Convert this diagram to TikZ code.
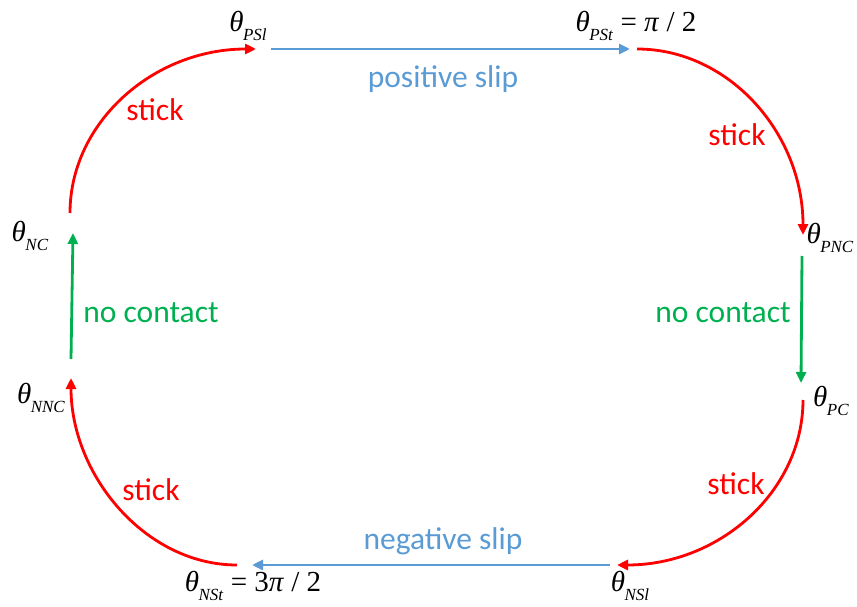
\documentclass[tikz,border=0pt]{standalone}
\usepackage{fontspec}
\setmainfont{Liberation Serif}
\newfontfamily\carl{Carlito}
\usetikzlibrary{arrows.meta}
\definecolor{cred}{RGB}{255,0,0}
\definecolor{cblue}{RGB}{91,155,213}
\definecolor{cgreen}{RGB}{0,176,80}
\newcommand\thsub[1]{\textit{θ}\kern-0.5pt\raisebox{-0.7ex}{\fontsize{17}{17}\selectfont\textit{#1}}}
\tikzset{
  conn/.style={line width=2.8pt,-{Triangle[length=11pt,width=10pt]}},
  redc/.style={conn,draw=cred},
  bluec/.style={conn,draw=cblue},
  greenc/.style={conn,draw=cgreen},
  thlab/.style={inner sep=0pt,font=\fontsize{29}{33}\selectfont},
  txlab/.style={inner sep=0pt,anchor=base,font=\carl\fontsize{31.5}{36}\selectfont},
}
\begin{document}
\begin{tikzpicture}[x=1pt,y=-1pt]
\useasboundingbox (0,0) rectangle (857,607);
% endpoints
\coordinate (a1) at (70,213);  \coordinate (a2) at (256,49);
\coordinate (b1) at (271,49);  \coordinate (b2) at (630,49);
\coordinate (c1) at (637,49);  \coordinate (c2) at (803,235);
\coordinate (d1) at (802,256); \coordinate (d2) at (801,383);
\coordinate (e1) at (803,400); \coordinate (e2) at (617,565);
\coordinate (f1) at (610,565); \coordinate (f2) at (252,565);
\coordinate (g1) at (237,565); \coordinate (g2) at (71,378);
\coordinate (h1) at (71,359);  \coordinate (h2) at (73,233);
% theta labels
\node[thlab] (psl) at (248,26) {\thsub{PSl}};
\node[thlab] (pst) at (636,26) {\thsub{PSt}\ = \textit{π} / 2};
\node[thlab] (pnc) at (830,238) {\thsub{PNC}};
\node[thlab] (pc) at (831,401) {\thsub{PC}};
\node[thlab] (nsl) at (630,586) {\thsub{NSl}};
\node[thlab] (nst) at (253,586) {\thsub{NSt}\ = 3\textit{π} / 2};
\node[thlab] (nnc) at (41,398) {\thsub{NNC}};
\node[thlab] (nc) at (30,236) {\thsub{NC}};
% connectors
\draw[redc] (a1) .. controls (70,122.4) and (153.3,49) .. (a2);
\draw[bluec] (b1) -- (b2);
\draw[redc] (c1) .. controls (728.7,49) and (803,133) .. (c2);
\draw[greenc] (d1) -- (d2);
\draw[redc] (e1) .. controls (803,491.1) and (719.7,565) .. (e2);
\draw[bluec] (f1) -- (f2);
\draw[redc] (g1) .. controls (145.3,565) and (71,475) .. (g2);
\draw[greenc] (h1) -- (h2);
% text labels
\node[txlab,text=cblue] (tpos) at (443,88) {positive slip};
\node[txlab,text=cblue] (tneg) at (443,549) {negative slip};
\node[txlab,text=cred] (s1) at (155,121) {stick};
\node[txlab,text=cred] (s2) at (737,146) {stick};
\node[txlab,text=cred] (s3) at (736,494) {stick};
\node[txlab,text=cred] (s4) at (151,500) {stick};
\node[txlab,text=cgreen] (nc1) at (151,322) {no contact};
\node[txlab,text=cgreen] (nc2) at (723,322) {no contact};
\end{tikzpicture}
\end{document}
